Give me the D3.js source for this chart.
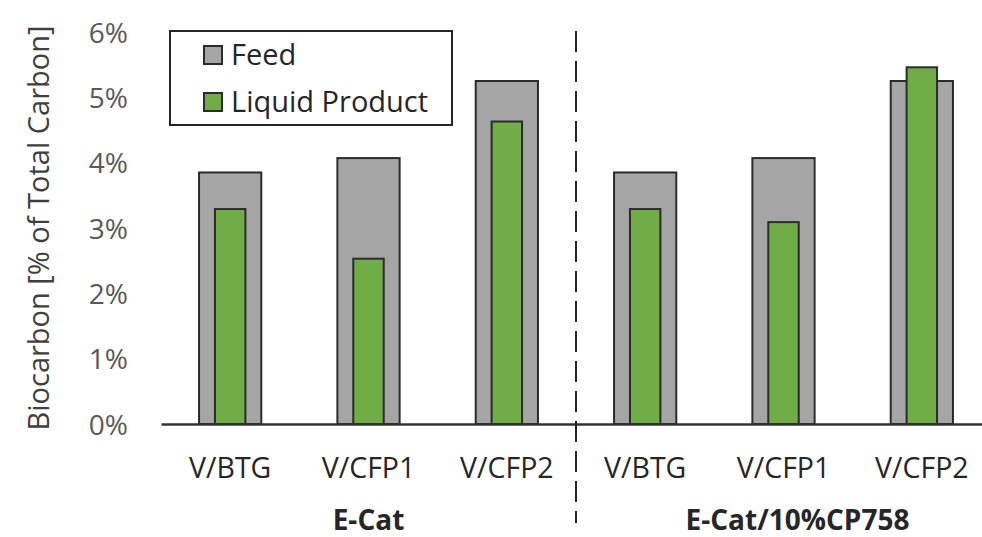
<!DOCTYPE html>
<html>
<head>
<meta charset="utf-8">
<script src="https://cdn.jsdelivr.net/npm/d3@7"></script>
<style>
  body { margin: 0; background: #fff; }
  svg { display: block; font-family: "Open Sans", sans-serif; }
</style>
</head>
<body>
<div id="chart"></div>
<script>
// categories and group labels
var categories = ["V/BTG", "V/CFP1", "V/CFP2", "V/BTG", "V/CFP1", "V/CFP2"];
var groups = ["E-Cat", "E-Cat/10%CP758"];
var groupOf = [0, 0, 0, 1, 1, 1];

// biocarbon in % of total carbon
var feedValues = [3.85, 4.07, 5.25, 3.85, 4.07, 5.25];
var liquidValues = [3.29, 2.53, 4.63, 3.29, 3.09, 5.46];

var yTicks = [0, 1, 2, 3, 4, 5, 6];

var svgWidth = 982;
var svgHeight = 537;

var svg = d3.select("#chart")
  .append("svg")
  .attr("width", svgWidth)
  .attr("height", svgHeight);

// scales
var xScale = d3.scaleBand()
  .domain(d3.range(categories.length))
  .range([161, 991])
  .padding(0);

var yScale = d3.scaleLinear()
  .domain([0, 6])
  .range([424, 32]);

// y axis (labels only)
var yAxis = svg.append("g")
  .attr("transform", "translate(128,0)")
  .call(d3.axisLeft(yScale).tickValues(yTicks).tickSize(0).tickPadding(0).tickFormat(d => d + "%"));
yAxis.select(".domain").remove();
yAxis.selectAll("text")
  .attr("font-family", "Open Sans")
  .attr("font-size", 28)
  .attr("fill", "#595959")
  .attr("dy", "0.36em");

// axis title
svg.append("text")
  .attr("transform", "translate(49," + yScale(3) + ") rotate(-90)")
  .attr("text-anchor", "middle")
  .attr("font-size", 29)
  .attr("fill", "#404040")
  .text("Biocarbon [% of Total Carbon]");

// bars
var bw = xScale.bandwidth();
var feedWidth = bw * 0.45;
var liquidWidth = bw * 0.22;

svg.append("g").selectAll("rect")
  .data(feedValues)
  .enter()
  .append("rect")
  .attr("x", (d, i) => xScale(i) + (bw - feedWidth) / 2)
  .attr("y", d => yScale(d))
  .attr("width", feedWidth)
  .attr("height", d => yScale(0) - yScale(d))
  .attr("fill", "#a5a5a5")
  .attr("stroke", "#2b2b2b")
  .attr("stroke-width", 2);

svg.append("g").selectAll("rect")
  .data(liquidValues)
  .enter()
  .append("rect")
  .attr("x", (d, i) => xScale(i) + (bw - liquidWidth) / 2)
  .attr("y", d => yScale(d))
  .attr("width", liquidWidth)
  .attr("height", d => yScale(0) - yScale(d))
  .attr("fill", "#70ad47")
  .attr("stroke", "#2b2b2b")
  .attr("stroke-width", 2);

// x axis
var xAxis = svg.append("g")
  .attr("transform", "translate(0," + yScale(0) + ")")
  .call(d3.axisBottom(xScale).tickSize(0).tickSizeOuter(0).tickPadding(0).tickFormat(i => categories[i]));
xAxis.select(".domain")
  .attr("stroke", "#333")
  .attr("stroke-width", 2.5);
xAxis.selectAll("text")
  .attr("font-family", "Open Sans")
  .attr("font-size", 28.5)
  .attr("fill", "#262626")
  .attr("dy", 0)
  .attr("y", 54);

// group divider
var divX = xScale(3);
svg.append("line")
  .attr("x1", divX)
  .attr("x2", divX)
  .attr("y1", 31)
  .attr("y2", 523)
  .attr("stroke", "#262626")
  .attr("stroke-width", 2)
  .attr("stroke-dasharray", "21,9");

// group labels
groups.forEach(function (g, gi) {
  var idx = d3.range(categories.length).filter(i => groupOf[i] === gi);
  var start = xScale(idx[0]);
  var end = xScale(idx[idx.length - 1]) + bw;
  // the second group's label sits a bit right, as in the source
  var cx = (start + end) / 2 + (gi === 1 ? 14 : 0);
  svg.append("text")
    .attr("x", cx)
    .attr("y", 530)
    .attr("text-anchor", "middle")
    .attr("font-size", 28)
    .attr("font-weight", "bold")
    .attr("fill", "#262626")
    .text(g);
});

// legend
var legend = svg.append("g");
legend.append("rect")
  .attr("x", 170)
  .attr("y", 31)
  .attr("width", 282)
  .attr("height", 94)
  .attr("fill", "#fff")
  .attr("stroke", "#262626")
  .attr("stroke-width", 2);

var legendItems = [
  { label: "Feed", color: "#a5a5a5", y: 55 },
  { label: "Liquid Product", color: "#70ad47", y: 102 }
];
legendItems.forEach(function (item) {
  legend.append("rect")
    .attr("x", 204)
    .attr("y", item.y - 9)
    .attr("width", 18)
    .attr("height", 18)
    .attr("fill", item.color)
    .attr("stroke", "#2b2b2b")
    .attr("stroke-width", 2);
  legend.append("text")
    .attr("x", 231)
    .attr("y", item.y + 10)
    .attr("font-size", 29)
    .attr("fill", "#262626")
    .text(item.label);
});
</script>
</body>
</html>
